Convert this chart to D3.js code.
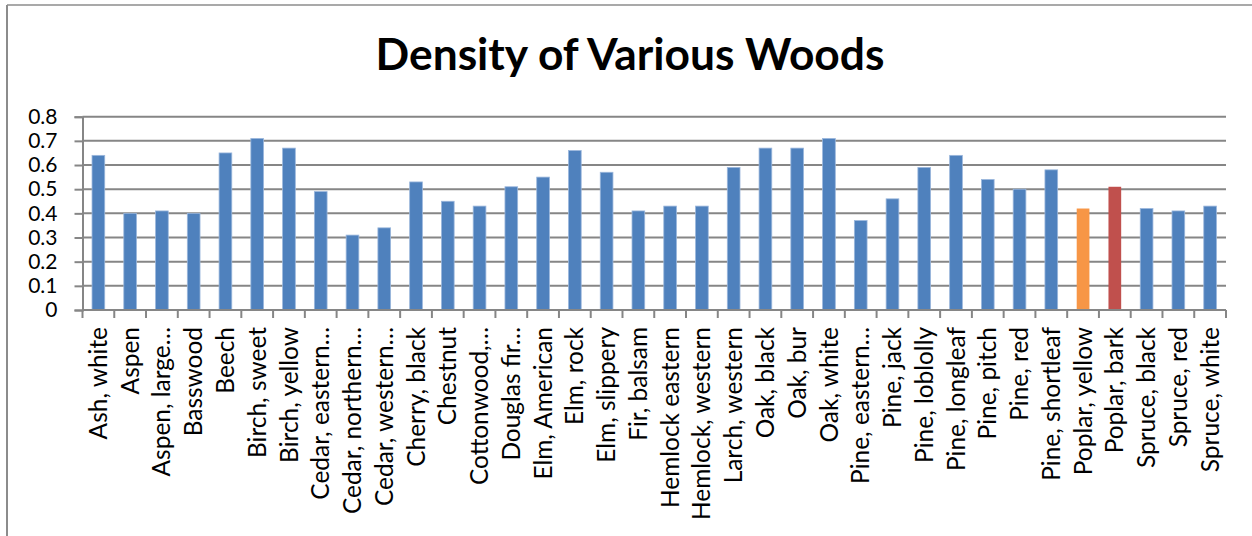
<!DOCTYPE html>
<html>
<head>
<meta charset="utf-8">
<script src="https://cdn.jsdelivr.net/npm/d3@7"></script>
<style>
  html, body { margin: 0; padding: 0; background: #fff; }
  svg { display: block; }
</style>
</head>
<body>
<svg id="chart" width="1252" height="536"></svg>
<script>
// Specific gravity of common woods
const woods = [
  "Ash, white", "Aspen", "Aspen, large\u2026", "Basswood", "Beech", "Birch, sweet",
  "Birch, yellow", "Cedar, eastern\u2026", "Cedar, northern\u2026", "Cedar, western\u2026",
  "Cherry, black", "Chestnut", "Cottonwood,\u2026", "Douglas fir\u2026", "Elm, American",
  "Elm, rock", "Elm, slippery", "Fir, balsam", "Hemlock eastern", "Hemlock, western",
  "Larch, western", "Oak, black", "Oak, bur", "Oak, white", "Pine, eastern\u2026",
  "Pine, jack", "Pine, loblolly", "Pine, longleaf", "Pine, pitch", "Pine, red",
  "Pine, shortleaf", "Poplar, yellow", "Poplar, bark", "Spruce, black", "Spruce, red",
  "Spruce, white"
];
const density = [
  0.64, 0.40, 0.41, 0.40, 0.65, 0.71,
  0.67, 0.49, 0.31, 0.34,
  0.53, 0.45, 0.43, 0.51, 0.55,
  0.66, 0.57, 0.41, 0.43, 0.43,
  0.59, 0.67, 0.67, 0.71, 0.37,
  0.46, 0.59, 0.64, 0.54, 0.50,
  0.58, 0.42, 0.51, 0.42, 0.41,
  0.43
];
const yTicks = [0, 0.1, 0.2, 0.3, 0.4, 0.5, 0.6, 0.7, 0.8];
const highlight = { "Poplar, yellow": "#F79646", "Poplar, bark": "#C0504D" };
const baseColor = "#4F81BD";

const svg = d3.select("#chart");
const font = "Lato, 'Open Sans', sans-serif";

// chart frame
svg.append("line").attr("x1", 7).attr("x2", 7).attr("y1", 5).attr("y2", 536)
  .attr("stroke", "#8c8c8c").attr("stroke-width", 2);
svg.append("line").attr("x1", 7).attr("x2", 1252).attr("y1", 5).attr("y2", 5)
  .attr("stroke", "#8c8c8c").attr("stroke-width", 1.5);

const plot = { left: 82.5, right: 1226, top: 116.7, bottom: 310 };

const x = d3.scaleBand().domain(woods).range([plot.left, plot.right])
  .paddingInner(0.6).paddingOuter(0.3);
const y = d3.scaleLinear().domain([0, 0.8]).range([plot.bottom, plot.top]);

// helper: font size that makes a sample string reach a target width
function fitSize(text, weight, target) {
  const t = svg.append("text").attr("font-family", font).attr("font-weight", weight)
    .attr("font-size", 100).text(text);
  const w = t.node().getComputedTextLength();
  t.remove();
  return 100 * target / w;
}

// title
const titleSize = fitSize("Density of Various Woods", "bold", 509);
svg.append("text")
  .attr("x", 630).attr("y", 70)
  .attr("text-anchor", "middle")
  .attr("font-family", font).attr("font-weight", "bold")
  .attr("font-size", titleSize)
  .attr("fill", "#000")
  .text("Density of Various Woods");

// gridlines
svg.append("g").selectAll("line").data(yTicks.slice(1)).join("line")
  .attr("x1", plot.left).attr("x2", plot.right)
  .attr("y1", d => y(d)).attr("y2", d => y(d))
  .attr("stroke", "#868686").attr("stroke-width", 2);

const labelSize = fitSize("Hemlock, western", "normal", 193);
const yLabelSize = Math.min(fitSize("0.8", "normal", 31), 21);

// y axis
const yAxis = d3.axisLeft(y).tickValues(yTicks).tickSize(8).tickPadding(17)
  .tickFormat(d => d === 0 ? "0" : d3.format(".1f")(d));
const gy = svg.append("g").attr("transform", `translate(${plot.left},0)`).call(yAxis);
gy.select(".domain").attr("stroke", "#868686").attr("stroke-width", 2);
gy.selectAll(".tick line").attr("stroke", "#868686").attr("stroke-width", 2);
gy.selectAll(".tick text").attr("font-family", font).attr("font-size", yLabelSize)
  .attr("fill", "#000");

// bars
svg.append("g").selectAll("rect").data(woods).join("rect")
  .attr("x", d => x(d))
  .attr("width", x.bandwidth())
  .attr("y", (d, i) => y(density[i]))
  .attr("height", (d, i) => y(0) - y(density[i]))
  .attr("fill", d => highlight[d] || baseColor)
  .attr("stroke", d => highlight[d] ? "none" : "#9bb7dc")
  .attr("stroke-width", 0.8);

// x axis with ticks at category boundaries
const boundaries = d3.range(woods.length + 1)
  .map(i => plot.left + i * (plot.right - plot.left) / woods.length);
const gx = svg.append("g");
gx.append("line").attr("x1", plot.left).attr("x2", plot.right)
  .attr("y1", y(0)).attr("y2", y(0))
  .attr("stroke", "#868686").attr("stroke-width", 2);
gx.selectAll("line.tk").data(boundaries).join("line").attr("class", "tk")
  .attr("x1", d => d).attr("x2", d => d)
  .attr("y1", y(0)).attr("y2", y(0) + 8)
  .attr("stroke", "#868686").attr("stroke-width", 2);

// rotated category labels
gx.selectAll("text").data(woods).join("text")
  .attr("transform", d => `translate(${x(d) + x.bandwidth() / 2},${y(0) + 17}) rotate(-90)`)
  .attr("text-anchor", "end")
  .attr("dy", "0.35em")
  .attr("font-family", font).attr("font-size", labelSize)
  .attr("fill", "#000")
  .text(d => d);
</script>
</body>
</html>
